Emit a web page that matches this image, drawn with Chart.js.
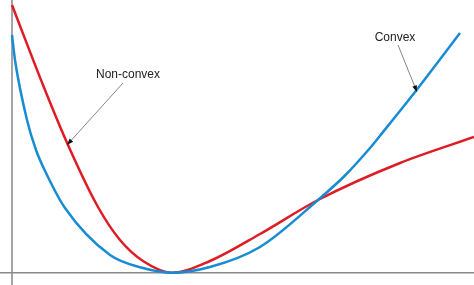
<!DOCTYPE html>
<html>
<head>
<meta charset="utf-8">
<script src="https://cdn.jsdelivr.net/npm/chart.js@4"></script>
<style>
  body { margin: 0; background: #fff; }
  #wrap { width: 474px; height: 285px; }
</style>
</head>
<body>
<div id="wrap"><canvas id="lossChart" width="474" height="285"></canvas></div>
<script>
const convexX = [0, 3, 15, 24, 35, 53, 98, 131, 160, 198, 248, 306, 333, 358, 368, 403, 448];
const convexY = [237.7, 212.7, 152.7, 122.7, 97.7, 64.7, 17.7, 4.7, 0, 5.7, 25.7, 72.7, 97.2, 124.7, 137, 180.7, 239.7];

const nonConvexX = [0, 31, 56, 86, 108, 131, 160, 198, 248, 306, 388, 462];
const nonConvexY = [267.7, 187.7, 127.7, 65.7, 32.7, 11.7, 0, 11.7, 38.7, 72.7, 109.7, 135.7];

// Annotation labels: text position and arrow from/to
const labels = ['Non-convex', 'Convex'];
const labelPos = [[116, 197.7], [383, 234.7]];
const arrowFrom = [[111, 189.7], [386, 227.7]];
const arrowTo = [[55, 127.7], [405, 180.7]];

const toPoints = (xs, ys) => xs.map((x, i) => ({ x: x, y: ys[i] }));

// Draw the two axis lines through the origin
const axesPlugin = {
    id: 'axesLines',
    beforeDatasetsDraw(chart) {
        const ctx = chart.ctx;
        const x0 = chart.scales.x.getPixelForValue(0);
        const y0 = chart.scales.y.getPixelForValue(0);
        ctx.save();
        ctx.strokeStyle = '#888';
        ctx.lineWidth = 1.5;
        ctx.beginPath();
        ctx.moveTo(x0, 0);
        ctx.lineTo(x0, chart.height);
        ctx.moveTo(0, y0);
        ctx.lineTo(chart.width, y0);
        ctx.stroke();
        ctx.restore();
    }
};

// Text labels with thin arrows
const labelPlugin = {
    id: 'curveLabels',
    afterDatasetsDraw(chart) {
        const ctx = chart.ctx;
        const sx = chart.scales.x, sy = chart.scales.y;
        ctx.save();
        labels.forEach((text, i) => {
            const fx = sx.getPixelForValue(arrowFrom[i][0]), fy = sy.getPixelForValue(arrowFrom[i][1]);
            const tx = sx.getPixelForValue(arrowTo[i][0]), ty = sy.getPixelForValue(arrowTo[i][1]);
            ctx.strokeStyle = '#666';
            ctx.lineWidth = 0.8;
            ctx.beginPath();
            ctx.moveTo(fx, fy);
            ctx.lineTo(tx, ty);
            ctx.stroke();
            const ang = Math.atan2(ty - fy, tx - fx);
            ctx.fillStyle = '#111';
            ctx.beginPath();
            ctx.moveTo(tx, ty);
            ctx.lineTo(tx - 7 * Math.cos(ang - 0.35), ty - 7 * Math.sin(ang - 0.35));
            ctx.lineTo(tx - 7 * Math.cos(ang + 0.35), ty - 7 * Math.sin(ang + 0.35));
            ctx.closePath();
            ctx.fill();

            ctx.fillStyle = '#222';
            ctx.font = '12px "Liberation Sans", Arial, sans-serif';
            ctx.textAlign = 'center';
            ctx.textBaseline = 'middle';
            ctx.fillText(text, sx.getPixelForValue(labelPos[i][0]), sy.getPixelForValue(labelPos[i][1]));
        });
        ctx.restore();
    }
};

const ctx = document.getElementById('lossChart').getContext('2d');
const lossChart = new Chart(ctx, {
    type: 'scatter',
    data: {
        datasets: [
            {
                label: 'Convex',
                data: toPoints(convexX, convexY),
                showLine: true,
                borderColor: 'rgb(23, 140, 210)',
                borderWidth: 2.5,
                pointRadius: 0,
                cubicInterpolationMode: 'monotone',
                fill: false
            },
            {
                label: 'Non-convex',
                data: toPoints(nonConvexX, nonConvexY),
                showLine: true,
                borderColor: 'rgb(222, 28, 38)',
                borderWidth: 2.5,
                pointRadius: 0,
                cubicInterpolationMode: 'monotone',
                fill: false
            }
        ]
    },
    options: {
        responsive: false,
        animation: false,
        layout: { padding: 0 },
        plugins: {
            legend: { display: false },
            tooltip: { enabled: false }
        },
        scales: {
            x: { type: 'linear', min: -12, max: 462, display: false },
            y: { type: 'linear', min: -12.3, max: 272.7, display: false }
        }
    },
    plugins: [axesPlugin, labelPlugin]
});
</script>
</body>
</html>
